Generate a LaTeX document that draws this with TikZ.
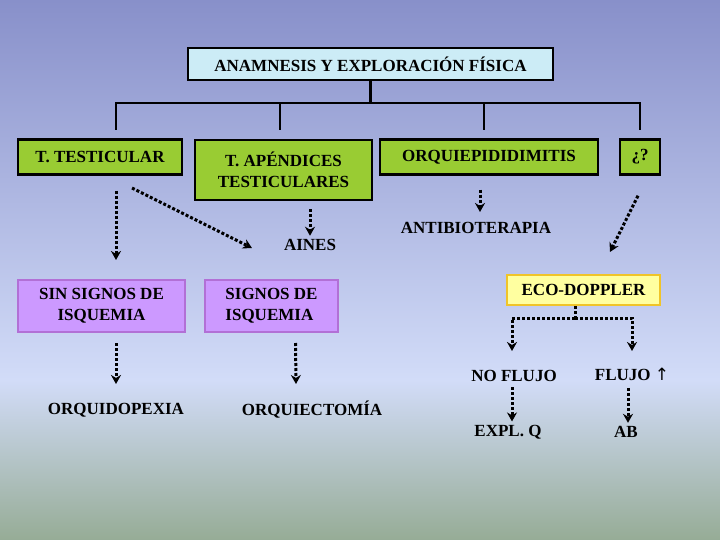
\documentclass[tikz,border=0pt]{standalone}
\usepackage{fontspec}
\setmainfont{Liberation Serif}
\usetikzlibrary{arrows.meta,positioning}
\definecolor{skyfill}{RGB}{204,236,246}
\definecolor{limefill}{RGB}{153,204,51}
\definecolor{lilacfill}{RGB}{204,153,255}
\definecolor{lilacdraw}{RGB}{178,112,214}
\definecolor{creamfill}{RGB}{255,255,160}
\definecolor{golddraw}{RGB}{240,196,40}
\definecolor{bgtop}{RGB}{136,144,202}
\definecolor{bgmid}{RGB}{210,220,248}
\definecolor{bgbottom}{RGB}{150,172,150}
\tikzset{
    % Box styles
    head box/.style={
        draw=black,
        fill=skyfill,
        line width=2.5pt,
        rectangle,
        minimum height=32pt,
        minimum width=365pt,
        align=center
    },
    cause box/.style={
        draw=black,
        fill=limefill,
        line width=2.5pt,
        rectangle,
        minimum height=35pt,
        align=center
    },
    sign box/.style={
        draw=lilacdraw,
        fill=lilacfill,
        line width=2pt,
        rectangle,
        minimum height=52pt,
        align=center
    },
    echo box/.style={
        draw=golddraw,
        fill=creamfill,
        line width=2.5pt,
        rectangle,
        minimum height=30pt,
        minimum width=153pt
    },
    plain text/.style={
        align=center
    },
    % Arrow styles
    tree line/.style={
        line width=2.5pt,
        black
    },
    dot arrow/.style={
        -{Stealth[length=9pt,width=10pt]},
        line width=3pt,
        dotted,
        black
    }
}
\begin{document}
\begin{tikzpicture}[x=1pt,y=-1pt,font=\bfseries\fontsize{17}{21}\selectfont]
    \shade[top color=bgtop,bottom color=bgmid] (0,0) rectangle (720,380);
    \shade[top color=bgmid,bottom color=bgbottom] (0,380) rectangle (720,540);
    \useasboundingbox (0,0) rectangle (720,540);

    \node[head box] (exam) at (370.5,64) {ANAMNESIS Y EXPLORACIÓN FÍSICA};

    \node[cause box, minimum width=164pt] (testis) at (100,157) {T. TESTICULAR};
    \node[cause box, minimum width=177pt, minimum height=60pt] (append) at (283.5,170) {T. APÉNDICES\\TESTICULARES};
    \node[cause box, minimum width=218pt] (orchi) at (489,157) {ORQUIEPIDIDIMITIS};
    \node[cause box, minimum width=40pt] (unknown) at (640,157) {¿?};

    % tree from the top box
    \coordinate (fork) at (370.5,103);
    \draw[tree line] (exam.south) -- (fork);
    \draw[tree line] (116,130) |- (fork) -| (640,130);
    \draw[tree line] (280,103) -- (280,130);
    \draw[tree line] (484,103) -- (484,130);

    \node[plain text] (aines) at (310,245) {AINES};
    \node[plain text] (antibio) at (476,228) {ANTIBIOTERAPIA};

    \node[sign box, minimum width=167pt] (nosigns) at (101.5,306) {SIN SIGNOS DE\\ISQUEMIA};
    \node[sign box, minimum width=133pt, align=left] (signs) at (271.5,306) {SIGNOS DE\\ISQUEMIA};

    \node[plain text] (pexia) at (116,410) {ORQUIDOPEXIA};
    \node[plain text] (ectomy) at (312,410) {ORQUIECTOMÍA};

    \node[echo box] (doppler) at (583.5,290) {ECO-DOPPLER};
    \node[plain text] (noflow) at (514,376) {NO FLUJO};
    \node[plain text] (flow) at (632,374) {FLUJO \fontspec{DejaVu Sans}\mdseries↑};
    \node[plain text] (explq) at (508,432) {EXPL. Q};
    \node[plain text] (ab) at (626,432) {AB};

    \coordinate (toNo) at (116,260);
    \coordinate (toSigns) at (252,248);
    \coordinate (toEcho) at (610,252);
    \coordinate (split) at (575,318);

    \draw[dot arrow] (116,191) -- (toNo);
    \draw[dot arrow] (132,188) -- (toSigns);
    \draw[dot arrow] (append.south -| aines) ++(0,8) -- (aines.north);
    \draw[dot arrow] (orchi.south -| 480,0) ++(0,14) -- (480,212);
    \draw[dot arrow] (unknown.south) ++(-2,20) -- (toEcho);
    \draw[dot arrow] (nosigns.south -| pexia) ++(0,10) -- (116,384);
    \draw[dot arrow] (signs.south) ++(24,10) -- (296,384);
    \draw[line width=3pt, dotted] (doppler.south -| split) -- (split);
    \draw[dot arrow] (split) -| (512,351);
    \draw[dot arrow] (split) -| (632,351);
    \draw[dot arrow] (noflow.south -| 512,0) ++(0,2) -- (explq.north -| 512,0);
    \draw[dot arrow] (flow.south -| 628,0) ++(0,4) -- (ab.north -| 628,0);
\end{tikzpicture}
\end{document}
